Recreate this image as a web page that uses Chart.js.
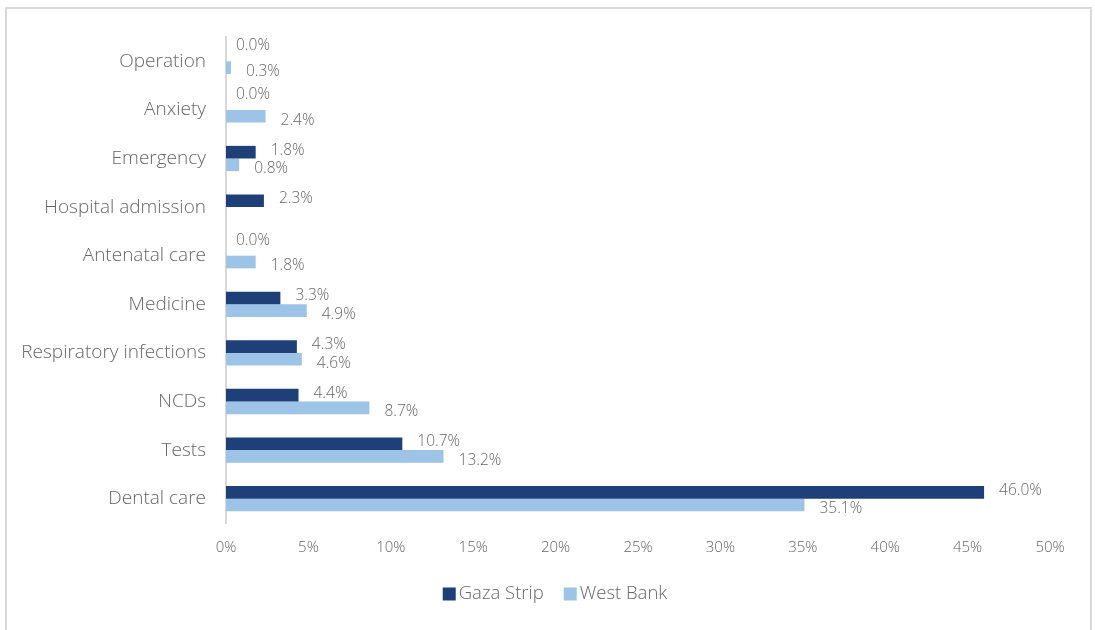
<!DOCTYPE html>
<html>
<head>
<meta charset="utf-8">
<script src="https://cdn.jsdelivr.net/npm/chart.js@4.4.1/dist/chart.umd.min.js"></script>
<style>
  html, body { margin: 0; padding: 0; background: #fff; }
  #wrap { position: relative; width: 1095px; height: 630px; overflow: hidden; }
  #frame { position: absolute; left: 5px; top: 7px; width: 1087px; height: 700px; border: 2px solid #d9d9d9; box-sizing: border-box; }
  canvas { position: absolute; left: 0; top: 0; }
</style>
</head>
<body>
<div id="wrap">
  <div id="frame"></div>
  <canvas id="c" width="1095" height="630"></canvas>
</div>
<script>
const categories = ['Operation', 'Anxiety', 'Emergency', 'Hospital admission', 'Antenatal care', 'Medicine', 'Respiratory infections', 'NCDs', 'Tests', 'Dental care'];
const gazaStrip = [0.0, 0.0, 1.8, 2.3, 0.0, 3.3, 4.3, 4.4, 10.7, 46.0];
const westBank = [0.3, 2.4, 0.8, null, 1.8, 4.9, 4.6, 8.7, 13.2, 35.1];
const seriesNames = ['Gaza Strip', 'West Bank'];
const xTicks = [0, 5, 10, 15, 20, 25, 30, 35, 40, 45, 50];

const FONT = "'Open Sans', 'Noto Sans', sans-serif";
const GRAY = '#666666';

const labelPlugin = {
  id: 'barLabels',
  afterDatasetsDraw(chart) {
    const ctx = chart.ctx;
    ctx.save();
    ctx.font = '300 15.5px ' + FONT;
    ctx.fillStyle = GRAY;
    ctx.textAlign = 'left';
    ctx.textBaseline = 'middle';
    chart.data.datasets.forEach((ds, di) => {
      const meta = chart.getDatasetMeta(di);
      meta.data.forEach((bar, i) => {
        const v = ds.data[i];
        if (v === null || v === undefined) return;
        let dy = di === 0 ? -2 : 4;
        if (v === 0) dy = -9;
        const dx = v === 0 ? 10 : 15;
        ctx.fillText(v.toFixed(1) + '%', bar.x + dx, bar.y + dy);
      });
    });
    ctx.restore();
  }
};

const legendPlugin = {
  id: 'customLegend',
  afterDraw(chart) {
    const ctx = chart.ctx;
    ctx.save();
    ctx.font = '300 18.5px ' + FONT;
    ctx.textBaseline = 'middle';
    ctx.textAlign = 'left';
    const box = 13, gapText = 3, gapItem = 20;
    const items = chart.data.datasets.map(ds => ({ text: ds.label, color: ds.backgroundColor, w: ctx.measureText(ds.label).width }));
    let total = 0;
    items.forEach((it, i) => { total += box + gapText + it.w + (i ? gapItem : 0); });
    let x = 555 - total / 2;
    const cy = 594;
    items.forEach((it, i) => {
      if (i) x += gapItem;
      ctx.fillStyle = it.color;
      ctx.fillRect(x, cy - box / 2, box, box);
      x += box + gapText;
      ctx.fillStyle = GRAY;
      ctx.fillText(it.text, x, cy);
      x += it.w;
    });
    ctx.restore();
  }
};

new Chart(document.getElementById('c'), {
  type: 'bar',
  data: {
    labels: categories,
    datasets: [
      { label: seriesNames[0], data: gazaStrip, backgroundColor: '#1f3f79', categoryPercentage: 0.52, barPercentage: 1.0 },
      { label: seriesNames[1], data: westBank, backgroundColor: '#9dc3e6', categoryPercentage: 0.52, barPercentage: 1.0 }
    ]
  },
  options: {
    indexAxis: 'y',
    responsive: false,
    animation: false,
    layout: { padding: { top: 37, left: 10, right: 45, bottom: 67 } },
    scales: {
      x: {
        min: 0, max: 50,
        afterBuildTicks(scale) { scale.ticks = xTicks.map(v => ({ value: v })); },
        afterFit(scale) { scale.height = 40; },
        grid: { display: false, drawTicks: false },
        border: { display: false },
        ticks: {
          color: GRAY,
          font: { family: FONT, size: 15, weight: '300' },
          padding: 16,
          callback: v => v + '%'
        }
      },
      y: {
        afterFit(scale) { scale.width = 216; },
        grid: { display: false, drawTicks: false },
        border: { display: true, color: '#d9d9d9', width: 2 },
        ticks: {
          color: GRAY,
          font: { family: FONT, size: 19, weight: '300' },
          padding: 20
        }
      }
    },
    plugins: {
      legend: { display: false },
      tooltip: { enabled: false }
    }
  },
  plugins: [labelPlugin, legendPlugin]
});
</script>
</body>
</html>
